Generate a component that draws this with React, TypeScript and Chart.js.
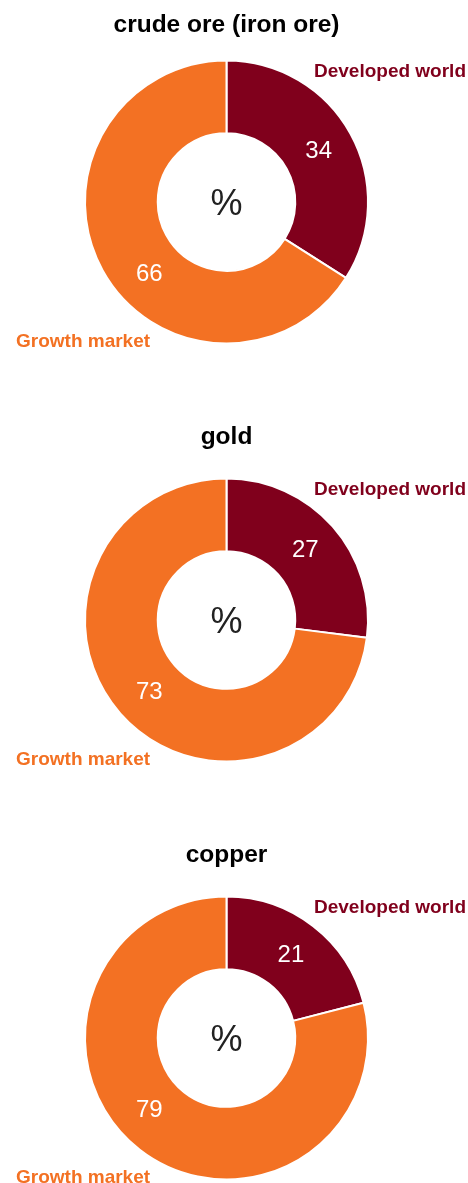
import React, { useEffect, useRef } from "react";
import { Chart, registerables } from "chart.js";

Chart.register(...registerables);

const titles = ["crude ore (iron ore)", "gold", "copper"];
const categories = ["Developed world", "Growth market"];
const developedValues = [34, 27, 21];
const growthValues = [66, 73, 79];
const colors = ["#80001c", "#f37123"];
const FONT = "'Liberation Sans', Arial, Helvetica, sans-serif";

const CH_W = 468;
const CH_H = 418;

function DonutChart({ index }: { index: number }) {
  const ref = useRef<HTMLCanvasElement | null>(null);
  useEffect(() => {
    if (!ref.current) return;
    const labelPlugin = {
      id: "donutLabels",
      afterDraw(chart: any) {
        const ctx = chart.ctx;
        const meta = chart.getDatasetMeta(0);
        const arc0 = meta.data[0];
        const arc1 = meta.data[1];
        const cx = arc0.x;
        const cy = arc0.y;
        ctx.save();
        // title
        ctx.fillStyle = "#000";
        ctx.font = `bold 24.5px ${FONT}`;
        ctx.textAlign = "center";
        ctx.textBaseline = "alphabetic";
        ctx.fillText(titles[index], cx, index === 0 ? 31.5 : 26.3);
        // category labels
        ctx.font = `bold 19px ${FONT}`;
        ctx.fillStyle = colors[0];
        ctx.textAlign = "right";
        ctx.fillText(categories[0], 466, cy - 125);
        ctx.fillStyle = colors[1];
        ctx.textAlign = "left";
        ctx.fillText(categories[1], 16, cy + 145);
        // value labels
        ctx.font = `24px ${FONT}`;
        ctx.fillStyle = "#fff";
        ctx.textAlign = "center";
        const p0 = arc0.tooltipPosition();
        ctx.fillText(String(developedValues[index]), p0.x, p0.y + 7);
        const r1 = (arc1.innerRadius + arc1.outerRadius) / 2 + 0.5;
        const ang = (227 * Math.PI) / 180;
        const gx = cx + Math.sin(ang) * r1;
        const gy = cy - Math.cos(ang) * r1;
        ctx.fillText(String(growthValues[index]), gx, gy + 7);
        // center %
        ctx.font = `36px ${FONT}`;
        ctx.fillStyle = "#222";
        ctx.fillText("%", cx, cy + 13);
        ctx.restore();
      },
    };
    const chart = new Chart(ref.current, {
      type: "doughnut",
      data: {
        labels: categories,
        datasets: [
          {
            data: [developedValues[index], growthValues[index]],
            backgroundColor: colors,
            borderColor: "#ffffff",
            borderWidth: 2,
            hoverOffset: 0,
          },
        ],
      },
      options: {
        responsive: false,
        maintainAspectRatio: false,
        animation: false,
        cutout: "48.6%",
        layout: { padding: { left: 84, right: 99, top: 59.5, bottom: 73.5 } },
        plugins: {
          legend: { display: false },
          tooltip: { enabled: false },
          title: { display: false },
        },
        events: [],
      },
      plugins: [labelPlugin],
    });
    return () => chart.destroy();
  }, [index]);
  return (
    <div style={{ position: "absolute", left: 0, top: index * CH_H, width: CH_W, height: CH_H }}>
      <canvas ref={ref} width={CH_W} height={CH_H} style={{ width: CH_W, height: CH_H, display: "block" }} />
    </div>
  );
}

export default function App() {
  return (
    <div
      style={{
        position: "absolute",
        left: 0,
        top: 0,
        width: 468,
        height: 1183,
        overflow: "hidden",
        background: "#fff",
      }}
    >
      {titles.map((_, i) => (
        <DonutChart key={i} index={i} />
      ))}
    </div>
  );
}
